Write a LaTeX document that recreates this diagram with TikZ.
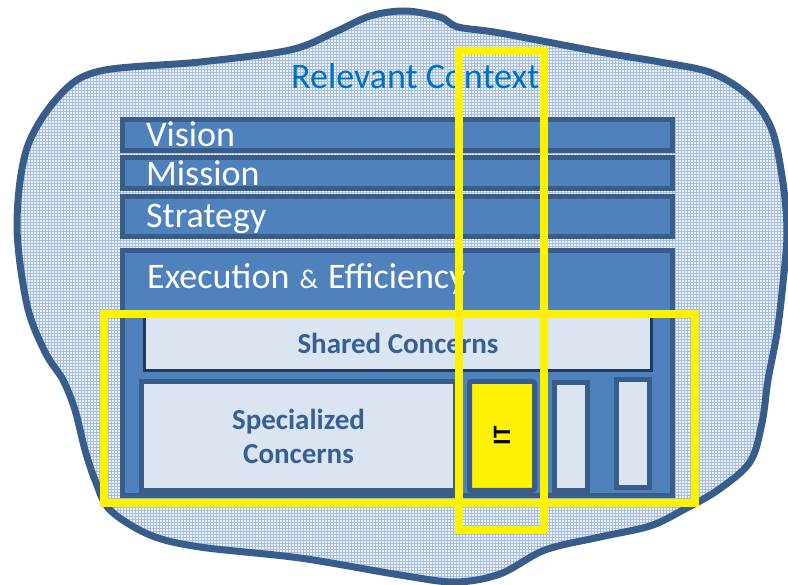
\documentclass[tikz,border=0pt]{standalone}
\usepackage{fontspec}
\setmainfont{Carlito}
\usetikzlibrary{patterns}

\definecolor{barblue}{HTML}{4F81BD}
\definecolor{bardark}{HTML}{385D8A}
\definecolor{paleblue}{HTML}{DBE5F1}
\definecolor{navyline}{HTML}{1F3A60}
\definecolor{labelblue}{HTML}{376092}
\definecolor{contextblue}{HTML}{0070C0}
\definecolor{gridblue}{HTML}{A9BFE0}
\definecolor{cloudfill}{HTML}{EAF0F8}

\begin{document}
\begin{tikzpicture}[x=1pt, y=-1pt,
    layer/.style={draw=bardark, line width=5pt, fill=barblue, anchor=north west, inner sep=0pt, outer sep=0pt},
    concern/.style={layer, fill=paleblue, text=labelblue, font=\bfseries\fontsize{29}{34}\selectfont, align=center},
    slot/.style={layer, fill=paleblue},
    layertext/.style={text=white, anchor=base west, inner sep=0pt, font=\fontsize{36}{40}\selectfont},
    highlight/.style={draw=yellow, line width=8pt}]
    \useasboundingbox (0,0) rectangle (788,585);

    % context cloud
    \path[fill=cloudfill] plot[smooth cycle, tension=0.55] coordinates {(27,148) (60,95) (100,71) (200,62) (290,50) (335,32) (370,16) (405,11) (440,17) (458,27) (500,33) (600,52) (660,62) (712,73) (750,97) (772,130) (783,183) (787,233) (783,283) (777,333) (768,380) (762,423) (750,462) (718,490) (683,510) (650,526) (600,537) (545,550) (500,574) (455,582) (400,575) (300,558) (200,547) (150,535) (110,510) (95,480) (85,450) (75,410) (63,380) (45,352) (27,305) (17,225)};
    \path[pattern=grid, pattern color=gridblue] plot[smooth cycle, tension=0.55] coordinates {(27,148) (60,95) (100,71) (200,62) (290,50) (335,32) (370,16) (405,11) (440,17) (458,27) (500,33) (600,52) (660,62) (712,73) (750,97) (772,130) (783,183) (787,233) (783,283) (777,333) (768,380) (762,423) (750,462) (718,490) (683,510) (650,526) (600,537) (545,550) (500,574) (455,582) (400,575) (300,558) (200,547) (150,535) (110,510) (95,480) (85,450) (75,410) (63,380) (45,352) (27,305) (17,225)};
    \draw[bardark, line width=7pt] plot[smooth cycle, tension=0.55] coordinates {(27,148) (60,95) (100,71) (200,62) (290,50) (335,32) (370,16) (405,11) (440,17) (458,27) (500,33) (600,52) (660,62) (712,73) (750,97) (772,130) (783,183) (787,233) (783,283) (777,333) (768,380) (762,423) (750,462) (718,490) (683,510) (650,526) (600,537) (545,550) (500,574) (455,582) (400,575) (300,558) (200,547) (150,535) (110,510) (95,480) (85,450) (75,410) (63,380) (45,352) (27,305) (17,225)};

    \node[text=contextblue, anchor=base west, inner sep=0pt, font=\fontsize{36}{40}\selectfont] (context) at (291,89) {Relevant Context:};

    % stacked layers
    \foreach \name/\top/\high/\base/\txt in {vision/119.5/31/147/Vision, mission/157.5/31/186/Mission, strategy/196.5/40/228/Strategy}
    {
        \node[layer, minimum width=550pt, minimum height=\high pt] (\name) at (122.5,\top) {};
        \node[layertext] (\name text) at (146,\base) {\txt};
    }
    \node[layer, minimum width=550pt, minimum height=245pt] (execution) at (122.5,250.5) {};
    \node[layertext] (execution text) at (147,289) {Execution\hspace{2pt} {\fontsize{27}{30}\selectfont\&}\hspace{2pt} Efficiency};

    % concerns
    \node[concern, draw=navyline, line width=3pt, minimum width=507pt, minimum height=54pt] (shared) at (144.5,316.5) {Shared Concerns};
    \node[concern, minimum width=314pt, minimum height=109pt] (specialized) at (141.5,381.5) {Specialized\\Concerns};
    \node[layer, fill=yellow, rounded corners=2pt, minimum width=65pt, minimum height=109pt] (it) at (469.5,381.5) {};
    \node[rotate=90, font=\bfseries\fontsize{25}{30}\selectfont] (it text) at (it.center) {IT};
    \node[slot, minimum width=33pt, minimum height=108pt] (slot one) at (554.5,382.5) {};
    \node[slot, minimum width=33pt, minimum height=108pt] (slot two) at (616.5,379.5) {};

    % highlights
    \draw[highlight] (103.5,314) rectangle (695,503);
    \draw[highlight] (459,51) rectangle (544,530);
\end{tikzpicture}
\end{document}
